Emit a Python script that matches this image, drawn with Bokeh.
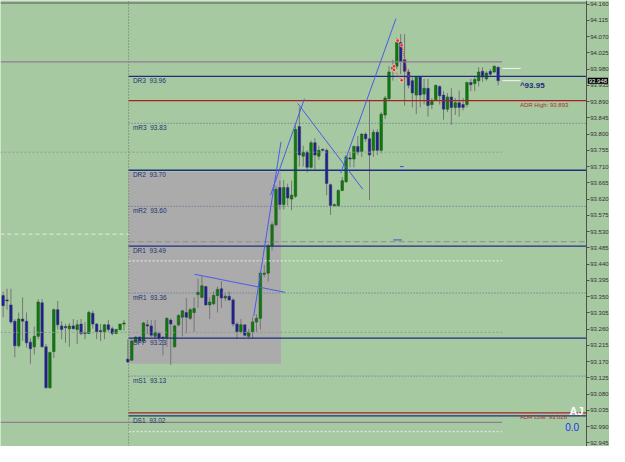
import numpy as np
from bokeh.plotting import figure
from bokeh.models import Range1d, FixedTicker, NumeralTickFormatter, Label
from bokeh.embed import file_html
from bokeh.resources import INLINE
from bokeh.core.properties import value

# ---------------- data ----------------
opens = [93.353, 93.341, 93.327, 93.282, 93.214, 93.288, 93.282, 93.224, 93.211, 93.240,
         93.333, 93.211, 93.098, 93.198, 93.314, 93.269, 93.267, 93.261, 93.269, 93.259,
         93.274, 93.251, 93.248, 93.304, 93.274, 93.256, 93.253, 93.272, 93.261, 93.248,
         93.259, 93.274, 93.177, 93.174, 93.224, 93.238, 93.227, 93.272, 93.269, 93.240,
         93.248, 93.238, 93.235, 93.285, 93.211, 93.272, 93.293, 93.306, 93.290, 93.306,
         93.356, 93.348, 93.378, 93.327, 93.330, 93.353, 93.372, 93.346, 93.351, 93.341,
         93.274, 93.253, 93.272, 93.240, 93.253, 93.280, 93.290, 93.412, 93.415, 93.491,
         93.549, 93.652, 93.605, 93.652, 93.620, 93.628, 93.821, 93.739, 93.750, 93.708,
         93.776, 93.739, 93.758, 93.755, 93.660, 93.602, 93.602, 93.644, 93.668, 93.734,
         93.731, 93.766, 93.752, 93.800, 93.787, 93.755, 93.805, 93.755, 93.853, 93.898,
         93.980, 93.988, 94.054, 94.006, 93.972, 93.948, 93.908, 93.958, 93.911, 93.927,
         93.882, 93.895, 93.932, 93.908, 93.869, 93.903, 93.874, 93.887, 93.882, 93.882,
         93.943, 93.940, 93.948, 93.974, 93.953, 93.974, 93.972, 93.985]
highs = [93.364, 93.372, 93.372, 93.288, 93.306, 93.348, 93.306, 93.235, 93.267, 93.343,
         93.343, 93.219, 93.198, 93.317, 93.338, 93.282, 93.274, 93.277, 93.288, 93.285,
         93.288, 93.280, 93.311, 93.311, 93.277, 93.274, 93.274, 93.285, 93.267, 93.261,
         93.274, 93.285, 93.232, 93.232, 93.240, 93.240, 93.280, 93.285, 93.285, 93.285,
         93.253, 93.240, 93.293, 93.290, 93.272, 93.301, 93.311, 93.346, 93.319, 93.348,
         93.399, 93.407, 93.380, 93.348, 93.364, 93.378, 93.393, 93.359, 93.364, 93.346,
         93.280, 93.288, 93.272, 93.261, 93.293, 93.301, 93.420, 93.438, 93.496, 93.557,
         93.657, 93.671, 93.673, 93.663, 93.671, 93.826, 93.874, 93.768, 93.755, 93.782,
         93.789, 93.768, 93.760, 93.760, 93.663, 93.607, 93.647, 93.681, 93.742, 93.750,
         93.768, 93.795, 93.803, 93.805, 93.895, 93.813, 93.813, 93.861, 93.906, 93.988,
         94.006, 94.067, 94.077, 94.077, 93.980, 93.958, 93.961, 93.961, 93.953, 93.953,
         93.900, 93.937, 93.935, 93.919, 93.914, 93.927, 93.900, 93.921, 93.900, 93.945,
         93.953, 93.961, 93.985, 93.985, 93.974, 93.980, 93.990, 93.988]
lows = [93.293, 93.314, 93.274, 93.182, 93.209, 93.227, 93.209, 93.164, 93.190, 93.232,
        93.209, 93.095, 93.095, 93.180, 93.259, 93.232, 93.222, 93.211, 93.259, 93.219,
        93.243, 93.232, 93.246, 93.261, 93.232, 93.227, 93.232, 93.253, 93.243, 93.246,
        93.256, 93.256, 93.166, 93.172, 93.222, 93.222, 93.224, 93.246, 93.238, 93.232,
        93.224, 93.187, 93.211, 93.161, 93.209, 93.267, 93.240, 93.248, 93.285, 93.253,
        93.319, 93.346, 93.325, 93.288, 93.327, 93.306, 93.319, 93.338, 93.338, 93.267,
        93.232, 93.248, 93.240, 93.232, 93.235, 93.253, 93.259, 93.404, 93.391, 93.478,
        93.544, 93.591, 93.591, 93.602, 93.589, 93.623, 93.710, 93.710, 93.694, 93.705,
        93.702, 93.729, 93.752, 93.631, 93.576, 93.599, 93.599, 93.642, 93.665, 93.708,
        93.708, 93.742, 93.737, 93.779, 93.618, 93.737, 93.742, 93.747, 93.842, 93.895,
        93.948, 93.980, 93.966, 93.879, 93.927, 93.874, 93.855, 93.874, 93.882, 93.848,
        93.869, 93.892, 93.882, 93.840, 93.861, 93.826, 93.853, 93.848, 93.866, 93.874,
        93.919, 93.919, 93.932, 93.945, 93.948, 93.961, 93.969, 93.935]
closes = [93.325, 93.338, 93.280, 93.214, 93.288, 93.282, 93.222, 93.206, 93.240, 93.335,
          93.211, 93.098, 93.195, 93.314, 93.272, 93.259, 93.264, 93.269, 93.261, 93.272,
          93.248, 93.248, 93.306, 93.274, 93.253, 93.253, 93.272, 93.259, 93.248, 93.259,
          93.274, 93.277, 93.169, 93.227, 93.238, 93.227, 93.277, 93.269, 93.243, 93.251,
          93.235, 93.235, 93.290, 93.274, 93.269, 93.298, 93.311, 93.293, 93.314, 93.317,
          93.362, 93.380, 93.327, 93.335, 93.353, 93.370, 93.346, 93.351, 93.341, 93.274,
          93.253, 93.272, 93.243, 93.251, 93.280, 93.290, 93.415, 93.415, 93.491, 93.549,
          93.647, 93.605, 93.652, 93.623, 93.631, 93.813, 93.742, 93.750, 93.708, 93.776,
          93.742, 93.755, 93.755, 93.663, 93.602, 93.605, 93.644, 93.671, 93.737, 93.731,
          93.766, 93.750, 93.800, 93.787, 93.742, 93.805, 93.755, 93.855, 93.900, 93.972,
          93.985, 94.054, 94.001, 93.974, 93.935, 93.914, 93.958, 93.908, 93.927, 93.879,
          93.890, 93.935, 93.906, 93.869, 93.903, 93.874, 93.887, 93.874, 93.874, 93.943,
          93.937, 93.951, 93.972, 93.958, 93.969, 93.966, 93.988, 93.948]

y_ticks = [94.160, 94.115, 94.070, 94.025, 93.980, 93.935, 93.890, 93.845, 93.800, 93.755,
           93.710, 93.665, 93.620, 93.575, 93.530, 93.485, 93.440, 93.395, 93.350, 93.305,
           93.260, 93.215, 93.170, 93.125, 93.080, 93.035, 92.990, 92.945]

# pivot levels of the day
solid_levels = [93.96, 93.70, 93.49, 93.235, 93.02]
dotted_levels = [93.83, 93.60, 93.36, 93.13]
level_values = [93.96, 93.83, 93.70, 93.60, 93.49, 93.36, 93.235, 93.13, 93.02]
level_labels = ["DR3\u00a0\u00a093.96", "mR3\u00a0\u00a093.83", "DR2\u00a0\u00a093.70",
                "mR2\u00a0\u00a093.60", "DR1\u00a0\u00a093.49", "mR1\u00a0\u00a093.36",
                "DPP\u00a0\u00a093.23", "mS1\u00a0\u00a093.13", "DS1\u00a0\u00a093.02"]
adr_high, adr_low = 93.893, 93.028
prev_high, prev_low = 94.000, 93.002
last_price = 93.948
last_text = "93.948"

day_start = 32.2        # candle index where today's session starts
session_end = 128.0
box_right = 71.3
box_low, box_high = 93.164, 93.695

# trend lines drawn on the chart (candle index, price)
trend_x0 = [64.3, 68.6, 75.6, 86.6, 49.1]
trend_y0 = [93.296, 93.631, 93.885, 93.692, 93.412]
trend_x1 = [71.3, 77.3, 92.3, 100.8, 72.3]
trend_y1 = [93.779, 93.898, 93.647, 94.120, 93.362]

zig_x = [101.25, 102.25, 100.3, 100.3, 102.25]
zig_y = [94.059, 94.046, 93.988, 93.978, 93.949]

BG = "#A7C9A1"
NAVY = "#202C80"
RED = "#A82020"
LBL = "#24326E"

idx = np.arange(len(opens))
o = np.array(opens); c = np.array(closes)
up = c >= o
top = np.maximum(o, c); bot = np.minimum(o, c)

axis_x = 149.6            # where the price scale sits
x_start, x_end = -0.675, 155.575
y_lo, y_hi = 92.935, 94.170
p = figure(width=609, height=446, x_range=Range1d(x_start, x_end),
           y_range=Range1d(y_lo, y_hi), x_axis_location=None,
           y_axis_location="right", output_backend="svg", toolbar_location=None,
           background_fill_color=BG, border_fill_color=BG, min_border=0)
p.outline_line_color = None
p.grid.visible = False

ax = p.yaxis[0]
ax.fixed_location = axis_x
ax.ticker = FixedTicker(ticks=y_ticks)
ax.formatter = NumeralTickFormatter(format="0.000")
ax.major_label_text_font = "Liberation Sans"
ax.major_label_text_font_size = "6px"
ax.major_label_text_color = "#303030"
ax.major_label_standoff = 1
ax.major_tick_out = 3
ax.major_tick_in = 0
ax.minor_tick_out = 0
ax.minor_tick_in = 0
ax.axis_line_color = "#505050"
ax.major_tick_line_color = "#505050"

# top frame line
p.segment(x0=[x_start], y0=[94.163], x1=[axis_x], y1=[94.163], line_color="#5A5A5A", line_width=1)

# gray session box
p.quad(left=[day_start], right=[box_right], bottom=[box_low], top=[box_high],
       fill_color="#ABABAB", line_color=None)

# candles
p.segment(x0=idx, y0=lows, x1=idx, y1=highs, line_color="#767676", line_width=1)
p.vbar(x=idx[up], top=top[up], bottom=bot[up], width=0.65,
       fill_color="#0B7D0B", line_color="#1E4A1E", line_width=0.5)
p.vbar(x=idx[~up], top=top[~up], bottom=bot[~up], width=0.65,
       fill_color="#1C208C", line_color="#3A3A70", line_width=0.5)

# vertical session separator
p.segment(x0=[day_start], y0=[y_lo], x1=[day_start], y1=[y_hi],
          line_color="#6A6A6A", line_dash="1 2", line_width=1)

# previous day high/low
p.segment(x0=[x_start, x_start], y0=[prev_high, prev_low], x1=[session_end, session_end],
          y1=[prev_high, prev_low], line_color="#8E7E8E", line_width=1.2)

# light auxiliary lines
p.segment(x0=[x_start, x_start], y0=[93.750, 93.251], x1=[session_end, session_end],
          y1=[93.750, 93.251], line_color="#8E9E8E", line_dash="2 2", line_width=1)
p.segment(x0=[x_start], y0=[93.523], x1=[day_start], y1=[93.523],
          line_color="#E4ECE4", line_dash="4 3", line_width=1)
p.segment(x0=[day_start], y0=[93.502], x1=[axis_x], y1=[93.502],
          line_color="#8C8C8C", line_dash="6 3", line_width=1)
p.segment(x0=[day_start, day_start], y0=[93.449, 92.976], x1=[session_end, session_end],
          y1=[93.449, 92.976], line_color="#EEEEEE", line_dash="2 2", line_width=1)

# pivot lines
n_s = len(solid_levels)
p.segment(x0=[day_start] * n_s, y0=solid_levels, x1=[axis_x] * n_s, y1=solid_levels,
          line_color=NAVY, line_width=1.3)
n_d = len(dotted_levels)
p.segment(x0=[day_start] * n_d, y0=dotted_levels, x1=[axis_x] * n_d, y1=dotted_levels,
          line_color="#5A6A8C", line_dash="1 2", line_width=1)
p.segment(x0=[day_start, day_start], y0=[adr_high, adr_low], x1=[axis_x, axis_x],
          y1=[adr_high, adr_low], line_color=RED, line_width=1.3)

# trend lines
p.segment(x0=trend_x0, y0=trend_y0, x1=trend_x1, y1=trend_y1, line_color="#4A5CE6", line_width=1)
p.segment(x0=[100.1, 101.8], y0=[93.507, 93.710], x1=[102.3, 102.8], y1=[93.507, 93.710],
          line_color="#3A4CE0", line_width=1)

# zigzag
p.multi_line(xs=[[101.25, 102.25, 104.0], [100.3, 102.25, 104.3]],
             ys=[[94.059, 94.046, 93.958], [93.978, 93.949, 93.962]],
             line_color="#FF3030", line_dash="1 1", line_width=1)
p.scatter(x=zig_x, y=zig_y, size=3.5, fill_color="#FF2020", line_color="#FFFFFF", line_width=0.5)

# current price marks
p.segment(x0=[128.1, 128.1], y0=[93.982, last_price], x1=[132.8, 132.8], y1=[93.982, last_price],
          line_color="#F4F4F4", line_width=1)

# level labels
n_l = len(level_values)
p.text(x=[day_start + 1.1] * n_l, y=level_values, text=level_labels,
       text_font=value("Liberation Sans"), text_font_size="6.5px", text_color=LBL,
       text_baseline="top", y_offset=1)
p.text(x=[132.6, 132.6], y=[adr_high, adr_low], text=["ADR High: 93.893", "ADR Low: 93.028"],
       text_font=value("Liberation Sans"), text_font_size="6px", text_color="#A83030",
       text_baseline="top", y_offset=1)
p.text(x=[132.6], y=[last_price], text=["^93.95"], text_font=value("Liberation Sans"),
       text_font_size="8px", text_font_style="bold", text_color="#1C2C80", text_baseline="top")

p.add_layout(Label(x=145.3, y=93.032, text="AJ", text_font="Liberation Sans",
                   text_font_size="11px", text_font_style="bold", text_color="white",
                   text_baseline="middle"))
p.add_layout(Label(x=144.2, y=92.990, text="0.0", text_font="Liberation Sans",
                   text_font_size="10px", text_color="#2030F0", text_baseline="middle"))
p.add_layout(Label(x=axis_x, y=last_price, x_offset=1.5, text=last_text, text_font="Liberation Sans",
                   text_font_size="6px", text_color="white", text_baseline="middle",
                   background_fill_color="black", padding=1))

open("out.html", "w").write(file_html(p, INLINE))
